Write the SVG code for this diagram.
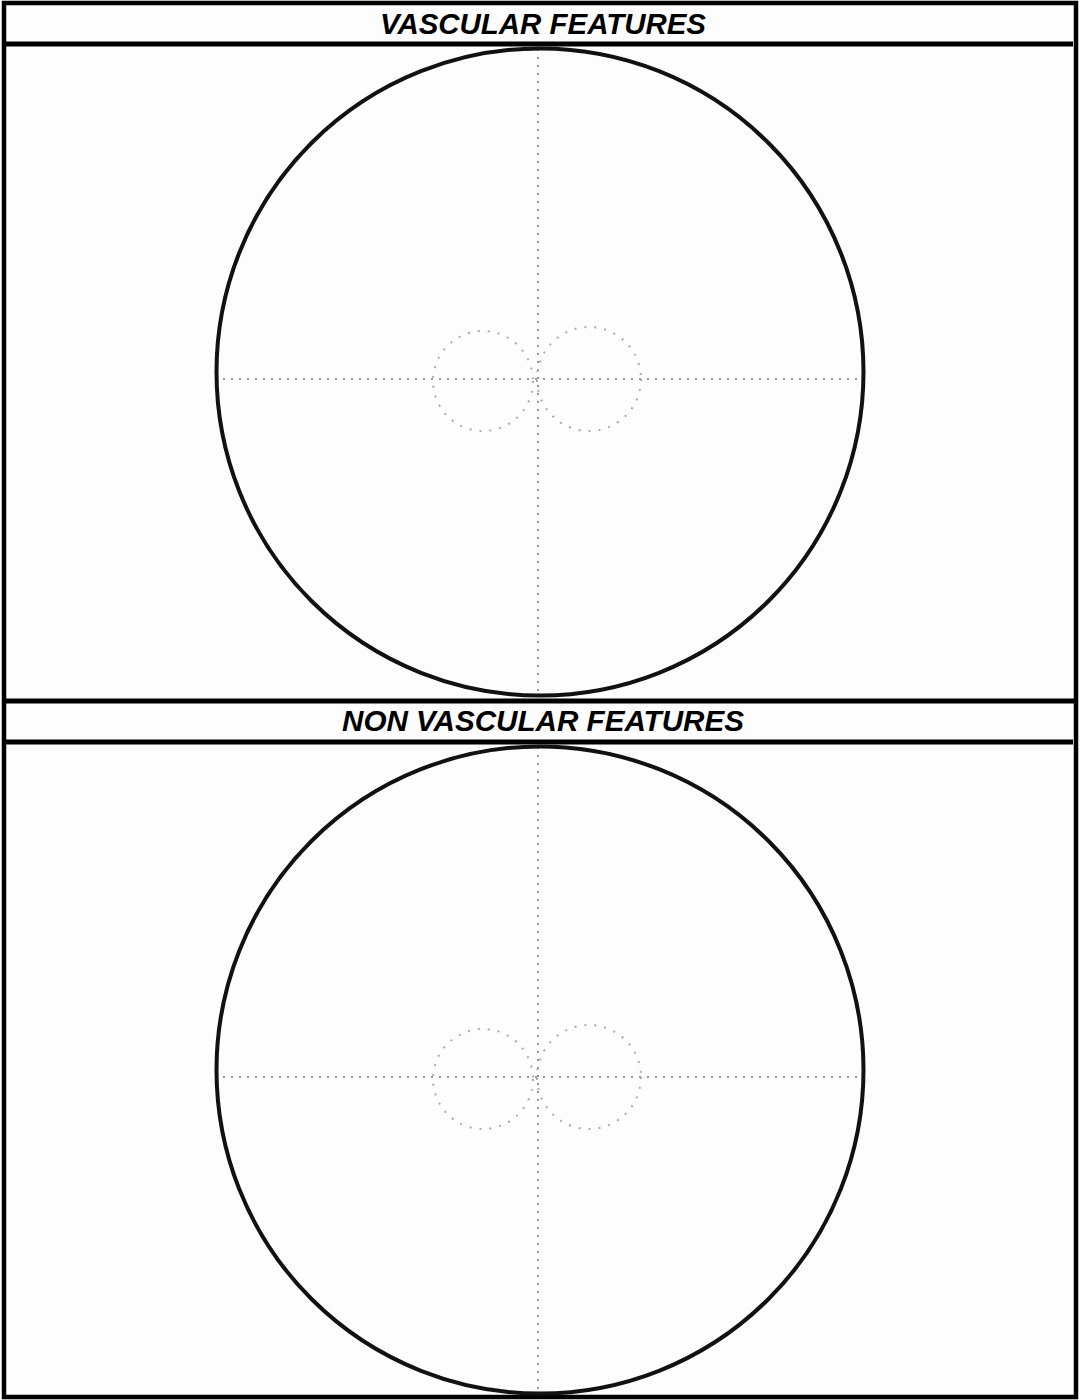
<svg xmlns="http://www.w3.org/2000/svg" width="1080" height="1400" viewBox="0 0 1080 1400">
  <style>
    .frame { fill: none; stroke: #000; stroke-width: 4.5; }
    .rule { stroke: #000; stroke-width: 5; }
    .big { fill: none; stroke: #111; stroke-width: 4; }
    .axis { stroke: #999; stroke-width: 2; stroke-dasharray: 2 6; fill: none; }
    .small { fill: none; stroke: #aaa; stroke-width: 2; stroke-dasharray: 2 8; }
    .title { font-family: "Liberation Sans", Arial, sans-serif; font-weight: bold; font-style: italic; font-size: 30px; fill: #000; }
  </style>
  <rect x="0" y="0" width="1080" height="1400" fill="#fdfdfd"/>
  <g id="frame">
    <rect class="frame" x="4" y="3" width="1072" height="1394"/>
    <line class="rule" x1="4" y1="44" x2="1073" y2="44"/>
    <line class="rule" x1="4" y1="701" x2="1076" y2="701"/>
    <line class="rule" x1="4" y1="742" x2="1073" y2="742"/>
  </g>
  <g id="panel-vascular">
    <text class="title" x="543" y="34" text-anchor="middle" textLength="326" lengthAdjust="spacingAndGlyphs">VASCULAR FEATURES</text>
    <line class="axis" x1="538" y1="49" x2="538" y2="695"/>
    <line class="axis" x1="223" y1="379" x2="862" y2="379"/>
    <circle class="small" cx="483" cy="381" r="50"/>
    <circle class="small" cx="589" cy="379" r="52"/>
    <circle class="big" cx="540" cy="372" r="323.5"/>
  </g>
  <g id="panel-nonvascular">
    <text class="title" x="543" y="731" text-anchor="middle" textLength="402" lengthAdjust="spacingAndGlyphs">NON VASCULAR FEATURES</text>
    <line class="axis" x1="538" y1="747" x2="538" y2="1393"/>
    <line class="axis" x1="223" y1="1077" x2="862" y2="1077"/>
    <circle class="small" cx="483" cy="1079" r="50"/>
    <circle class="small" cx="589" cy="1077" r="52"/>
    <circle class="big" cx="540" cy="1070" r="323.5"/>
  </g>
  <g id="connectors"></g>
</svg>
